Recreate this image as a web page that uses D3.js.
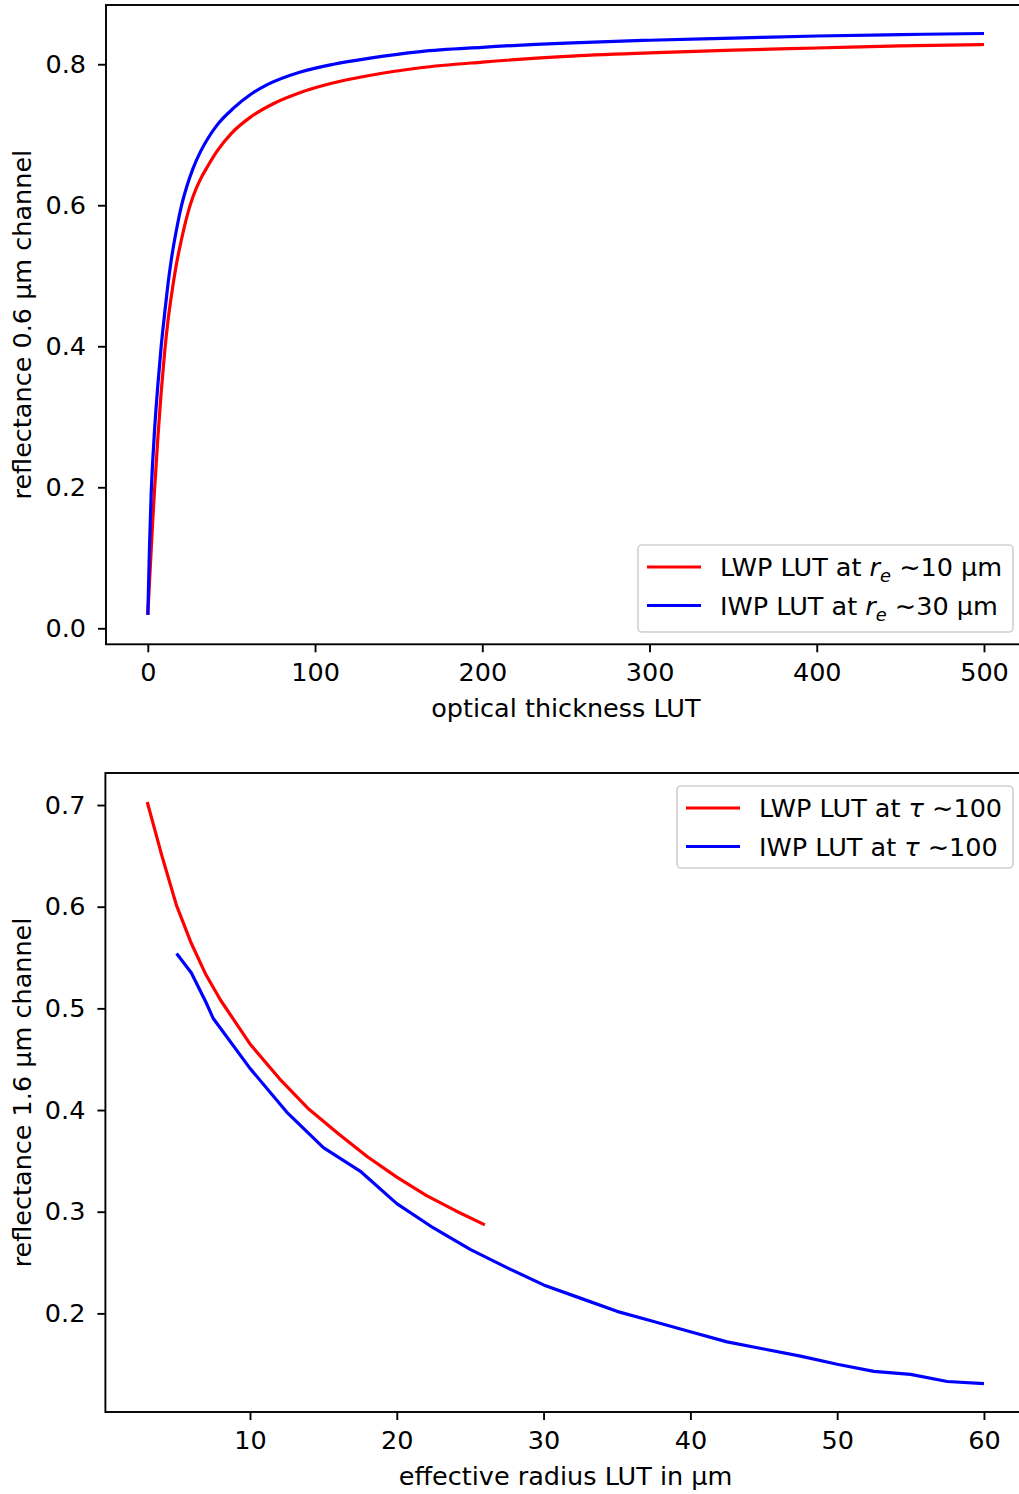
<!DOCTYPE html>
<html>
<head>
<meta charset="utf-8">
<script src="https://cdn.jsdelivr.net/npm/d3@7"></script>
<style>
  html, body { margin: 0; padding: 0; background: #fff; }
  svg text { font-family: "DejaVu Sans", sans-serif; fill: #000; }
</style>
</head>
<body>
<svg id="fig" width="1019" height="1494"></svg>
<script>
// Reflectance at 0.6 µm versus optical thickness
const lwpTau = [0, 1, 2, 3, 4, 6, 8, 10, 12, 14, 17, 20, 23.5, 27, 31.5, 36, 41.5, 50, 61.4, 75, 91.3, 110, 130, 163, 200, 250, 300, 350, 400, 450, 500];
const lwpRefl06 = [0.019, 0.065, 0.11, 0.155, 0.195, 0.27, 0.335, 0.39, 0.435, 0.47, 0.515, 0.55, 0.585, 0.612, 0.637, 0.656, 0.677, 0.702, 0.725, 0.744, 0.760, 0.773, 0.783, 0.795, 0.803, 0.811, 0.816, 0.820, 0.823, 0.826, 0.828];
const iwpTau = [0, 1, 2, 3, 4, 6, 8, 10, 12, 14, 17.6, 20, 23.5, 27, 31.5, 36, 41.5, 51.4, 61.4, 71.4, 91.3, 111, 131, 163, 200, 250, 300, 350, 400, 450, 500];
const iwpRefl06 = [0.019, 0.115, 0.19, 0.24, 0.28, 0.345, 0.40, 0.445, 0.487, 0.522, 0.571, 0.598, 0.628, 0.652, 0.676, 0.695, 0.714, 0.738, 0.757, 0.771, 0.789, 0.800, 0.808, 0.818, 0.824, 0.830, 0.834, 0.837, 0.840, 0.842, 0.8436];

// Reflectance at 1.6 µm versus effective radius
const lwpRe = [3, 4, 5, 6, 7, 8, 10, 12, 14, 16, 18, 20, 22, 24, 26];
const lwpRefl16 = [0.703, 0.650, 0.601, 0.564, 0.533, 0.508, 0.465, 0.431, 0.401, 0.377, 0.354, 0.334, 0.316, 0.301, 0.287];
const iwpRe = [5, 6, 7, 7.5, 10, 12.5, 15, 17.5, 20, 22.5, 25, 27.5, 30, 32.5, 35, 37.5, 40, 42.5, 45, 47.5, 50, 52.5, 55, 57.5, 60];
const iwpRefl16 = [0.554, 0.535, 0.506, 0.490, 0.441, 0.398, 0.363, 0.340, 0.308, 0.284, 0.263, 0.245, 0.228, 0.215, 0.202, 0.192, 0.182, 0.172, 0.165, 0.158, 0.150, 0.143, 0.140, 0.133, 0.131];

const tauTicks = [0, 100, 200, 300, 400, 500];
const refl06Ticks = [0.0, 0.2, 0.4, 0.6, 0.8];
const reTicks = [10, 20, 30, 40, 50, 60];
const refl16Ticks = [0.2, 0.3, 0.4, 0.5, 0.6, 0.7];

const FS = 25.5;
const svg = d3.select("#fig");

function drawPanel(cfg) {
  const g = svg.append("g");
  const x = d3.scaleLinear().domain(cfg.xDomain).range(cfg.xRange);
  const y = d3.scaleLinear().domain(cfg.yDomain).range(cfg.yRange);

  const clipId = "clip" + cfg.id;
  g.append("clipPath").attr("id", clipId).append("rect")
    .attr("x", cfg.xRange[0]).attr("y", cfg.yRange[1])
    .attr("width", cfg.xRange[1] - cfg.xRange[0])
    .attr("height", cfg.yRange[0] - cfg.yRange[1]);

  const line = d3.line().x(d => x(d[0])).y(d => y(d[1])).curve(cfg.curve);
  cfg.series.forEach(s => {
    g.append("path")
      .datum(d3.zip(s.xs, s.ys))
      .attr("clip-path", `url(#${clipId})`)
      .attr("fill", "none")
      .attr("stroke", s.color)
      .attr("stroke-width", 3.2)
      .attr("stroke-linejoin", "round")
      .attr("d", line);
  });

  // axes
  const xAxis = d3.axisBottom(x).tickValues(cfg.xTicks).tickSize(8).tickPadding(11).tickFormat(d3.format("d"));
  const yAxis = d3.axisLeft(y).tickValues(cfg.yTicks).tickSize(8).tickPadding(12).tickFormat(d3.format(".1f"));
  const gx = g.append("g").attr("transform", `translate(0,${cfg.yRange[0]})`).call(xAxis);
  const gy = g.append("g").attr("transform", `translate(${cfg.xRange[0]},0)`).call(yAxis);
  [gx, gy].forEach(a => {
    a.select(".domain").remove();
    a.selectAll(".tick line").attr("stroke", "#000").attr("stroke-width", 1.9);
    a.selectAll(".tick text").attr("font-size", FS).attr("font-family", "DejaVu Sans").attr("fill", "#000");
  });

  // frame
  g.append("rect")
    .attr("x", cfg.xRange[0]).attr("y", cfg.yRange[1])
    .attr("width", cfg.xRange[1] - cfg.xRange[0])
    .attr("height", cfg.yRange[0] - cfg.yRange[1])
    .attr("fill", "none").attr("stroke", "#000").attr("stroke-width", 1.9);

  // axis labels
  g.append("text")
    .attr("x", (cfg.xRange[0] + cfg.xRange[1]) / 2)
    .attr("y", cfg.yRange[0] + 73)
    .attr("text-anchor", "middle").attr("font-size", FS)
    .text(cfg.xLabel);
  const cy = (cfg.yRange[0] + cfg.yRange[1]) / 2;
  g.append("text")
    .attr("transform", `translate(31,${cy}) rotate(-90)`)
    .attr("text-anchor", "middle").attr("font-size", FS)
    .text(cfg.yLabel);

  // legend
  const L = cfg.legend;
  const lg = g.append("g");
  lg.append("rect")
    .attr("x", L.x).attr("y", L.y).attr("width", L.w).attr("height", L.h)
    .attr("rx", 4).attr("fill", "#fff").attr("fill-opacity", 0.8)
    .attr("stroke", "#d0d0d0").attr("stroke-width", 1.6);
  L.items.forEach((it, i) => {
    const yy = L.y + 22 + i * 38.5;
    lg.append("line")
      .attr("x1", L.x + 9).attr("x2", L.x + 63)
      .attr("y1", yy).attr("y2", yy)
      .attr("stroke", it.color).attr("stroke-width", 3.2);
    const t = lg.append("text").attr("x", L.x + 82).attr("y", yy + 9).attr("font-size", FS);
    it.parts.forEach(p => {
      const ts = t.append("tspan").text(p.t);
      if (p.it) ts.attr("font-style", "italic");
      if (p.sub) ts.attr("font-size", FS * 0.7).attr("dy", 6);
      if (p.up) ts.attr("dy", -6);
    });
  });
}

drawPanel({
  id: "a",
  xDomain: [-25, 525], xRange: [106, 1025.8],
  yDomain: [-0.0227, 0.884], yRange: [644.3, 5],
  curve: d3.curveMonotoneX,
  xTicks: tauTicks, yTicks: refl06Ticks,
  xLabel: "optical thickness LUT",
  yLabel: "reflectance 0.6 µm channel",
  series: [
    { xs: lwpTau, ys: lwpRefl06, color: "#ff0000" },
    { xs: iwpTau, ys: iwpRefl06, color: "#0000ff" }
  ],
  legend: {
    x: 638, y: 545, w: 375, h: 87,
    items: [
      { color: "#ff0000", parts: [{ t: "LWP LUT at " }, { t: "r", it: true }, { t: "e", it: true, sub: true }, { t: " ∼10 µm", up: true }] },
      { color: "#0000ff", parts: [{ t: "IWP LUT at " }, { t: "r", it: true }, { t: "e", it: true, sub: true }, { t: " ∼30 µm", up: true }] }
    ]
  }
});

drawPanel({
  id: "b",
  xDomain: [0.15, 62.85], xRange: [105.4, 1025.8],
  yDomain: [0.103, 0.7315], yRange: [1412, 773],
  curve: d3.curveLinear,
  xTicks: reTicks, yTicks: refl16Ticks,
  xLabel: "effective radius LUT in µm",
  yLabel: "reflectance 1.6 µm channel",
  series: [
    { xs: lwpRe, ys: lwpRefl16, color: "#ff0000" },
    { xs: iwpRe, ys: iwpRefl16, color: "#0000ff" }
  ],
  legend: {
    x: 677, y: 786, w: 336, h: 82,
    items: [
      { color: "#ff0000", parts: [{ t: "LWP LUT at " }, { t: "τ", it: true }, { t: " ∼100" }] },
      { color: "#0000ff", parts: [{ t: "IWP LUT at " }, { t: "τ", it: true }, { t: " ∼100" }] }
    ]
  }
});
</script>
</body>
</html>
